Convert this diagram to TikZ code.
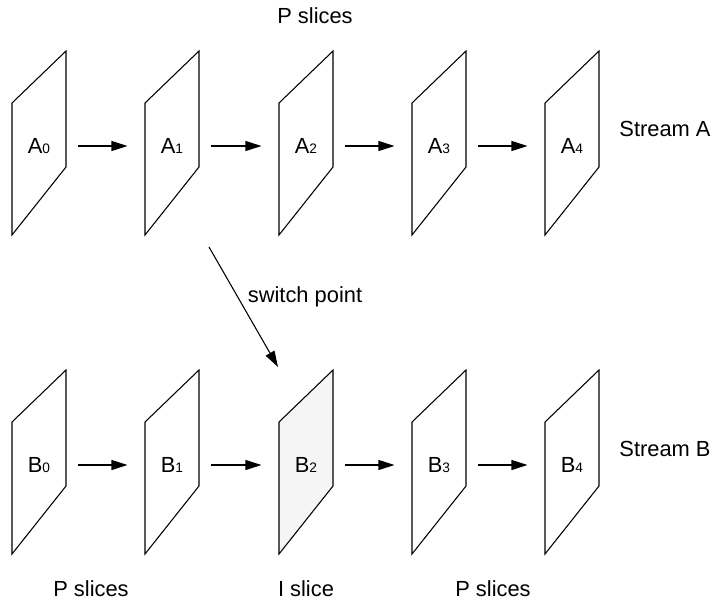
\documentclass[tikz,border=0pt]{standalone}
\usepackage{fontspec}
\setmainfont{Liberation Sans}
\usetikzlibrary{arrows.meta,backgrounds}
\newcommand{\sub}[1]{{\fontsize{10.3}{12}\selectfont #1}}

\begin{document}
\begin{tikzpicture}[x=0.75pt, y=-0.75pt, line width=0.8pt,
  every node/.style={font=\fontsize{16.4}{19}\selectfont},
  lbl/.style={inner sep=0pt, minimum width=57pt},
  arr/.style={-{Triangle[length=12pt,width=7.5pt]}, shorten >=4.5pt}]
  \useasboundingbox (0,0) rectangle (713,603);

  % stream A
  \node[lbl] (A0) at (39,146) {A\sub{0}};
  \node[lbl] (A1) at (172,146) {A\sub{1}};
  \node[lbl] (A2) at (306,146) {A\sub{2}};
  \node[lbl] (A3) at (439,146) {A\sub{3}};
  \node[lbl] (A4) at (572,146) {A\sub{4}};

  % stream B
  \node[lbl] (B0) at (39,465) {B\sub{0}};
  \node[lbl] (B1) at (172,465) {B\sub{1}};
  \node[lbl] (B2) at (306,465) {B\sub{2}};
  \node[lbl] (B3) at (439,465) {B\sub{3}};
  \node[lbl] (B4) at (572,465) {B\sub{4}};

  % slices
  \foreach \s in {A0,A1,A2,A3,A4,B0,B1,B2,B3,B4}
    \draw[shift={(\s)}] (-27,-43) -- (-27,89) -- (27,21) -- (27,-95) -- cycle;
  \begin{scope}[on background layer]
    \fill[black!4, shift={(B2)}] (-27,-43) -- (-27,89) -- (27,21) -- (27,-95) -- cycle;
  \end{scope}

  \draw[arr] (A0) -- (A1);
  \draw[arr] (A1) -- (A2);
  \draw[arr] (A2) -- (A3);
  \draw[arr] (A3) -- (A4);

  \draw[arr] (B0) -- (B1);
  \draw[arr] (B1) -- (B2);
  \draw[arr] (B2) -- (B3);
  \draw[arr] (B3) -- (B4);

  % switch
  \coordinate (swA) at (209,247);
  \coordinate (swB) at (278,367);
  \draw[arr, shorten >=0pt] (swA) -- (swB);
  \node (sw) at (305,297) {switch point};

  % labels
  \node (ptop) at (315,16) {P slices};
  \node (sA) at (665,129) {Stream A};
  \node (sB) at (665,449) {Stream B};
  \node (pl) at (91,589) {P slices};
  \node (il) at (306,589) {I slice};
  \node (pr) at (493,589) {P slices};
\end{tikzpicture}
\end{document}
